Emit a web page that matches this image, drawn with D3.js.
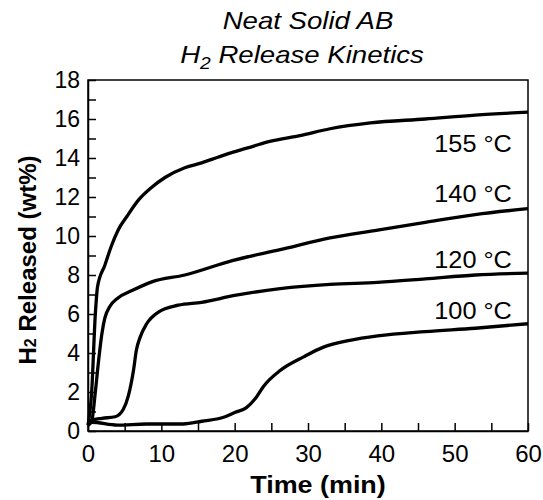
<!DOCTYPE html>
<html>
<head>
<meta charset="utf-8">
<script src="https://cdn.jsdelivr.net/npm/d3@7"></script>
<style>
  body { margin: 0; background: #fff; }
  svg { font-family: "Liberation Sans", Arial, sans-serif; }
</style>
</head>
<body>
<div id="chart"></div>
<script>
// H2 release curves, [time (min), wt%]
const t155 = [[0,0.3],[0.5,2.0],[1.0,6.0],[1.3,7.4],[2.3,8.5],[3.2,9.5],[4.1,10.3],[5.3,11.0],[6.9,11.85],[8.7,12.5],[10.5,13.0],[13.2,13.5],[15.5,13.75],[17.8,14.05],[19.8,14.3],[22.5,14.6],[24.8,14.85],[28.9,15.15],[33,15.5],[38.5,15.8],[46,16.0],[52.8,16.2],[60,16.35]];
const t140 = [[0,0.3],[0.5,0.5],[1.0,2.0],[1.5,3.8],[1.9,5.0],[2.3,5.8],[3.0,6.4],[4.0,6.8],[6.0,7.2],[8.7,7.65],[13.2,8.0],[19.8,8.75],[26.2,9.3],[33,9.9],[39.5,10.3],[46,10.7],[52.8,11.1],[60,11.4]];
const t120 = [[0,0.3],[0.5,0.55],[1.9,0.65],[3.7,0.73],[4.8,1.1],[5.5,1.8],[6.2,3.1],[6.6,4.15],[7.1,4.8],[8.0,5.5],[9.6,6.1],[12.3,6.45],[15.5,6.6],[20,6.95],[26.2,7.3],[33,7.52],[39.5,7.62],[46,7.8],[52.8,8.0],[60,8.1]];
const t100 = [[0,0.3],[0.5,0.45],[4,0.3],[8,0.36],[13,0.36],[15.5,0.5],[18.7,0.73],[20,0.95],[21.6,1.2],[23,1.76],[23.9,2.27],[26.2,3.1],[29.4,3.8],[32.1,4.3],[35.7,4.65],[39.5,4.88],[46,5.1],[52.8,5.27],[60,5.5]];

const seriesNames = ["155 °C", "140 °C", "120 °C", "100 °C"];
const seriesData = [t155, t140, t120, t100];
// where each label sits, in data units (right-aligned)
const labelAt = [[57.8, 14.3], [57.8, 11.75], [57.8, 8.35], [57.8, 5.75]];

const xTicks = [0, 10, 20, 30, 40, 50, 60];
const xMinor = [5, 15, 25, 35, 45, 55];
const yTicks = [0, 2, 4, 6, 8, 10, 12, 14, 16, 18];
const yMinor = [1, 3, 5, 7, 9, 11, 13, 15, 17];

const width = 543, height = 500;
const margin = {top: 80, right: 15, bottom: 69, left: 88};
const iw = width - margin.left - margin.right;
const ih = height - margin.top - margin.bottom;

const x = d3.scaleLinear().domain([0, 60]).range([0, iw]);
const y = d3.scaleLinear().domain([0, 18]).range([ih, 0]);

const svg = d3.select("#chart").append("svg")
    .attr("width", width)
    .attr("height", height);

const g = svg.append("g")
    .attr("transform", `translate(${margin.left},${margin.top})`);

// frame
g.append("rect")
    .attr("width", iw).attr("height", ih)
    .attr("fill", "none").attr("stroke", "#000").attr("stroke-width", 1.5);

// x axis, inward ticks
const xAxis = g.append("g")
    .attr("transform", `translate(0,${ih})`)
    .call(d3.axisBottom(x).tickValues(xTicks).tickSizeInner(-8).tickSizeOuter(0).tickPadding(14));
g.append("g")
    .attr("transform", `translate(0,${ih})`)
    .call(d3.axisBottom(x).tickValues(xMinor).tickSizeInner(-8).tickSizeOuter(0).tickFormat(""))
    .select(".domain").remove();
xAxis.selectAll("text").attr("font-size", 24).attr("font-family", "Liberation Sans, Arial, sans-serif");

const yAxis = g.append("g")
    .call(d3.axisLeft(y).tickValues(yTicks).tickSizeInner(-8).tickSizeOuter(0).tickPadding(8));
g.append("g")
    .call(d3.axisLeft(y).tickValues(yMinor).tickSizeInner(-8).tickSizeOuter(0).tickFormat(""))
    .select(".domain").remove();
yAxis.selectAll("text").attr("font-size", 23).attr("font-family", "Liberation Sans, Arial, sans-serif");

g.selectAll(".tick line").attr("stroke-width", 1.5);
g.selectAll(".domain").attr("stroke-width", 1.5);

// curves
const line = d3.line().x(d => x(d[0])).y(d => y(d[1])).curve(d3.curveMonotoneX);
g.append("g").selectAll("path")
  .data(seriesData)
  .join("path")
    .attr("d", line)
    .attr("fill", "none")
    .attr("stroke", "#000")
    .attr("stroke-width", 3.3)
    .attr("stroke-linejoin", "round");

g.append("g").selectAll("text")
  .data(seriesNames)
  .join("text")
    .attr("transform", (d, i) => `translate(${x(labelAt[i][0])},${y(labelAt[i][1])}) scale(1.1,1)`)
    .attr("text-anchor", "end")
    .attr("font-size", 23)
    .text(d => d);

// axis titles
svg.append("text")
    .attr("transform", `translate(318,493) scale(1.17,1)`)
    .attr("text-anchor", "middle")
    .attr("font-size", 23)
    .attr("font-weight", "bold")
    .text("Time (min)");

const yt = svg.append("text")
    .attr("transform", `translate(36,260) rotate(-90)`)
    .attr("text-anchor", "middle")
    .attr("font-size", 24)
    .attr("font-weight", "bold");
yt.append("tspan").text("H");
yt.append("tspan").attr("font-size", 16).text("2");
yt.append("tspan").text(" Released (wt%)");

// title
svg.append("text")
    .attr("transform", "translate(308,29) scale(1.2,1)")
    .attr("text-anchor", "middle")
    .attr("font-size", 23)
    .attr("font-style", "italic")
    .text("Neat Solid AB");
const t2 = svg.append("text")
    .attr("transform", "translate(302,63) scale(1.2,1)")
    .attr("text-anchor", "middle")
    .attr("font-size", 23)
    .attr("font-style", "italic");
t2.append("tspan").text("H");
t2.append("tspan").attr("font-size", 16).attr("dy", 6).text("2");
t2.append("tspan").attr("dy", -6).text(" Release Kinetics");
</script>
</body>
</html>
